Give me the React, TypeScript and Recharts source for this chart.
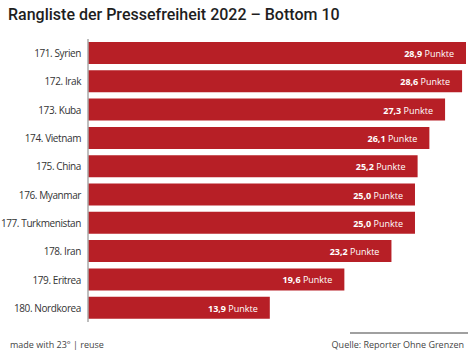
import React from "react";
import { BarChart, Bar, XAxis, YAxis, LabelList } from "recharts";

const categories = [
  "171. Syrien",
  "172. Irak",
  "173. Kuba",
  "174. Vietnam",
  "175. China",
  "176. Myanmar",
  "177. Turkmenistan",
  "178. Iran",
  "179. Eritrea",
  "180. Nordkorea",
];
const scores = [28.9, 28.6, 27.3, 26.1, 25.2, 25.0, 25.0, 23.2, 19.6, 13.9];
const unitLabel = "Punkte";

const data = categories.map((name, i) => ({ name, value: scores[i] }));

const fmt = (v: number) => v.toFixed(1).replace(".", ",");

const ValueLabel = (props: any) => {
  const { x, y, width, height, value } = props;
  return (
    <text
      x={x + width - 12}
      y={y + height / 2}
      textAnchor="end"
      dominantBaseline="central"
      fontFamily="'Open Sans', sans-serif"
      fontSize={9}
      fill="#ffffff"
    >
      <tspan fontWeight={700}>{fmt(value)}</tspan>
      <tspan> {unitLabel}</tspan>
    </text>
  );
};

const CategoryTick = (props: any) => {
  const { x, y, payload } = props;
  return (
    <text
      x={x + 1}
      y={y}
      textAnchor="end"
      dominantBaseline="central"
      fontFamily="'Open Sans', sans-serif"
      fontSize={10}
      style={{ letterSpacing: "-0.4px" }}
      fill="#333333"
    >
      {payload.value}
    </text>
  );
};

export default function App() {
  return (
    <div
      style={{
        position: "absolute",
        left: 0,
        top: 0,
        width: 474,
        height: 355,
        background: "#fff",
        overflow: "hidden",
      }}
    >
      <div
        style={{
          position: "absolute",
          left: 8,
          top: 5,
          fontFamily: "Roboto, sans-serif",
          fontSize: 16,
          fontWeight: 500,
          color: "#1e1e1e",
          whiteSpace: "nowrap",
        }}
      >
        Rangliste der Pressefreiheit 2022 – Bottom 10
      </div>
      <div style={{ position: "absolute", left: 0, top: 0 }}>
        <BarChart
          width={474}
          height={355}
          data={data}
          layout="vertical"
          margin={{ top: 39, right: 8, bottom: 33, left: 8 }}
        >
          <XAxis type="number" hide domain={[0, 28.9]} />
          <YAxis
            type="category"
            dataKey="name"
            width={80}
            axisLine={{ stroke: "#a8a8a8", strokeWidth: 1.5 }}
            tickLine={false}
            tick={<CategoryTick />}
            interval={0}
          />
          <Bar dataKey="value" fill="#b71f26" barSize={22} isAnimationActive={false}>
            <LabelList dataKey="value" content={<ValueLabel />} />
          </Bar>
        </BarChart>
      </div>
      <div
        style={{
          position: "absolute",
          left: 10,
          top: 338,
          fontFamily: "'Open Sans', sans-serif",
          fontSize: 9,
          color: "#444",
          whiteSpace: "nowrap",
        }}
      >
        made with 23° | reuse
      </div>
      <div
        style={{
          position: "absolute",
          left: 350,
          top: 332,
          width: 118,
          height: 2,
          background: "#a0a0a0",
        }}
      />
      <div
        style={{
          position: "absolute",
          right: 10,
          top: 338,
          fontFamily: "'Open Sans', sans-serif",
          fontSize: 9,
          color: "#444",
          whiteSpace: "nowrap",
        }}
      >
        Quelle: Reporter Ohne Grenzen
      </div>
    </div>
  );
}
